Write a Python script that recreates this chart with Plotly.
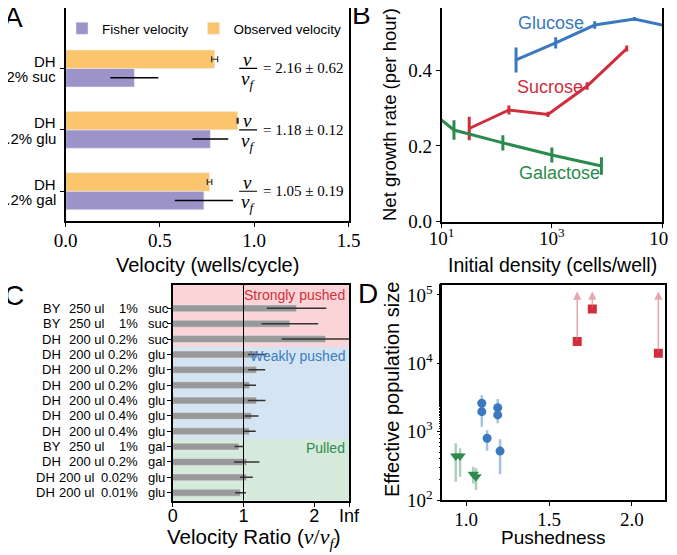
import numpy as np
import plotly.graph_objects as go

# the page body keeps an 8 px margin, so the figure is drawn 8 px in and down
OFF = 8
W, H = 677, 555
SANS = "Liberation Sans"
SERIF = "Liberation Serif"

# ---------- panel A : velocities ----------
a_strain = ["DH", "DH", "DH"]
a_cond = ["0.2% gal", "0.2% glu", "0.2% suc"]
fisher_v = [0.733, 0.767, 0.364]
fisher_err = [0.154, 0.095, 0.127]
observed_v = [0.763, 0.912, 0.790]
observed_err = [0.012, 0.003, 0.016]
ratio = [1.05, 1.18, 2.16]
ratio_err = [0.19, 0.12, 0.62]

# ---------- panel B : growth rate vs density ----------
glu_density = [224, 1175, 6000, 31600, 316000]
glu_rate = [0.427, 0.472, 0.519, 0.535, 0.503]
glu_err = [0.033, 0.015, 0.010, 0.005, 0.005]
suc_density = [31.6, 166, 850, 4370, 22900]
suc_rate = [0.246, 0.295, 0.283, 0.358, 0.457]
suc_err = [0.031, 0.012, 0.007, 0.010, 0.008]
gal_density = [7, 16.7, 129, 1000, 7940]
gal_rate = [0.286, 0.242, 0.208, 0.176, 0.147]
gal_err = [0.0, 0.026, 0.020, 0.020, 0.023]

# ---------- panel C : velocity ratios ----------
c_strain = ["BY", "BY", "DH", "DH", "DH", "DH", "DH", "DH", "DH", "BY", "DH", "DH", "DH"]
c_volume = ["250 ul", "250 ul", "200 ul", "200 ul", "200 ul", "200 ul", "200 ul",
            "200 ul", "200 ul", "250 ul", "200 ul", "200 ul", "200 ul"]
c_conc = ["1%", "1%", "0.2%", "0.2%", "0.2%", "0.2%", "0.4%", "0.4%", "0.4%",
          "1%", "0.2%", "0.02%", "0.01%"]
c_sugar = ["suc", "suc", "suc", "glu", "glu", "glu", "glu", "glu", "glu",
           "gal", "gal", "glu", "glu"]
c_ratio = [1.75, 1.655, 2.16, 1.195, 1.186, 1.087, 1.186, 1.115, 1.083,
           0.936, 1.045, 1.042, 0.958]
c_err = [0.42, 0.40, 0.62, 0.13, 0.12, 0.09, 0.125, 0.097, 0.09,
         0.06, 0.18, 0.09, 0.077]
c_regions = [("Strongly pushed", 0, 3, "#d03040", "rgba(232,60,70,0.22)"),
             ("Weakly pushed", 3, 9, "#3a7cc0", "rgba(60,130,200,0.22)"),
             ("Pulled", 9, 13, "#2e8b50", "rgba(50,150,80,0.2)")]

# ---------- panel D : effective population size ----------
red_push = [1.670, 1.761, 2.159]
red_ne = [20800, 62500, 14060]
red_upper = [1.12e5, 1.12e5, 1.12e5]
blue_push = [1.095, 1.095, 1.191, 1.191, 1.127, 1.205]
blue_ne = [2600, 1960, 2245, 1760, 800, 520]
blue_lo = [2000, 1175, 1700, 1330, 525, 238]
blue_hi = [3440, 2500, 3010, 2200, 1050, 775]
green_push = [0.938, 0.964, 1.044, 1.060]
green_ne = [440, 440, 238, 219]
green_lo = [185, 219, 175, 140]
green_hi = [676, 571, 307, 291]

PURPLE = "#9c93c9"
ORANGE = "#fcc46c"
BLUE = "#3a78c0"
RED = "#cf2e3c"
GREEN = "#2c8a4c"


def px(x):
    return (x - OFF) / W


def py(y):
    return 1 - (y - OFF) / H


def x_dom(a, b):
    return [max(0, px(a)), min(1, px(b))]


def y_dom(top, bottom):
    return [max(0, py(bottom)), min(1, py(top))]


a_cats = [f"{s} {c}" for s, c in zip(a_strain, a_cond)]

fig = go.Figure()

# A
fig.add_trace(go.Bar(y=a_cats, x=fisher_v, orientation="h", name="Fisher velocity",
                     marker_color=PURPLE, xaxis="x", yaxis="y",
                     error_x=dict(type="data", array=fisher_err, color="black",
                                  thickness=1.5, width=0)))
fig.add_trace(go.Bar(y=a_cats, x=observed_v, orientation="h", name="Observed velocity",
                     marker_color=ORANGE, xaxis="x", yaxis="y",
                     error_x=dict(type="data", array=observed_err, color="#333",
                                  thickness=1.2, width=3)))

# B
for dens, rate, err, col in [(glu_density, glu_rate, glu_err, BLUE),
                             (suc_density, suc_rate, suc_err, RED),
                             (gal_density, gal_rate, gal_err, GREEN)]:
    fig.add_trace(go.Scatter(x=dens, y=rate, mode="lines", line=dict(color=col, width=3),
                             error_y=dict(type="data", array=err, color=col,
                                          thickness=3, width=0),
                             xaxis="x2", yaxis="y2", showlegend=False))

# C
n = len(c_ratio)
c_y = [n - 1 - i for i in range(n)]
fig.add_trace(go.Bar(y=c_y, x=c_ratio, orientation="h", width=0.45,
                     marker_color="#999999", xaxis="x3", yaxis="y3", showlegend=False,
                     error_x=dict(type="data", array=c_err, color="#333333",
                                  thickness=1.5, width=0)))

# D
fig.add_trace(go.Scatter(x=blue_push, y=blue_ne, mode="markers",
                         marker=dict(color=BLUE, size=9),
                         error_y=dict(type="data",
                                      array=[h - v for h, v in zip(blue_hi, blue_ne)],
                                      arrayminus=[v - l for l, v in zip(blue_lo, blue_ne)],
                                      color="rgba(58,120,192,0.45)", thickness=2.5, width=0),
                         xaxis="x4", yaxis="y4", showlegend=False))
fig.add_trace(go.Scatter(x=green_push, y=green_ne, mode="markers",
                         marker=dict(color=GREEN, size=10, symbol="triangle-down"),
                         error_y=dict(type="data",
                                      array=[h - v for h, v in zip(green_hi, green_ne)],
                                      arrayminus=[v - l for l, v in zip(green_lo, green_ne)],
                                      color="rgba(44,138,76,0.4)", thickness=2.5, width=0),
                         xaxis="x4", yaxis="y4", showlegend=False))
fig.add_trace(go.Scatter(x=red_push, y=red_ne, mode="markers",
                         marker=dict(color=RED, size=9, symbol="square"),
                         xaxis="x4", yaxis="y4", showlegend=False))

ann = []
shapes = []

# A: two-line category labels and fraction annotations
for i, (s, c, r, e) in enumerate(zip(a_strain, a_cond, ratio, ratio_err)):
    for txt, shift in [(s, 7), (c, -8.5)]:
        ann.append(dict(x=px(58), y=i, xref="paper", yref="y", text=txt, yshift=shift,
                        showarrow=False, xanchor="right", yanchor="middle",
                        font=dict(family=SANS, size=15)))
    ann.append(dict(x=0.965, y=i, xref="x", yref="y", text="<i>v</i>", yshift=9,
                    showarrow=False, xanchor="center", yanchor="middle",
                    font=dict(family=SERIF, size=19)))
    ann.append(dict(x=0.965, y=i, xref="x", yref="y", text="<i>v<sub>f</sub></i>",
                    yshift=-12, showarrow=False, xanchor="center", yanchor="middle",
                    font=dict(family=SERIF, size=19)))
    shapes.append(dict(type="line", xref="x", yref="y", x0=0.92, x1=1.015, y0=i, y1=i,
                       line=dict(color="black", width=1.2)))
    ann.append(dict(x=1.035, y=i, xref="x", yref="y", text=f"= {r:.2f} ± {e:.2f}",
                    showarrow=False, xanchor="left", yanchor="middle",
                    font=dict(family=SERIF, size=15)))

# B curve labels
for txt, xx, yy, col in [("Glucose", 2.98, 0.525, BLUE), ("Sucrose", 2.96, 0.355, RED),
                         ("Galactose", 3.13, 0.128, GREEN)]:
    ann.append(dict(x=xx, y=yy, xref="x2", yref="y2", text=txt, showarrow=False,
                    xanchor="center", yanchor="middle",
                    font=dict(family=SANS, size=18, color=col)))

# C region backgrounds and labels
for name, i0, i1, tcol, fcol in c_regions:
    top = n - 1 - i0 + 0.5 if i0 > 0 else n + 0.6
    bot = n - 1 - i1 + 0.5 if i1 < n else -0.6
    shapes.append(dict(type="rect", xref="x3 domain", yref="y3", x0=0, x1=1,
                       y0=bot, y1=top, fillcolor=fcol, line_width=0, layer="below"))
    ann.append(dict(x=0.99, y=n - 1 - i0 + (0.85 if i0 == 0 else -0.08),
                    xref="x3 domain", yref="y3", text=name,
                    showarrow=False, xanchor="right", yanchor="middle",
                    font=dict(family=SANS, size=14, color=tcol)))
shapes.append(dict(type="line", xref="x3", yref="y3 domain", x0=1, x1=1, y0=0, y1=1,
                   line=dict(color="black", width=1)))

# C row labels: one right-aligned line per row, built from four columns
for i in range(n):
    yy = c_y[i]
    tight = 10 if len(c_conc[i]) > 4 else 0   # only one space before long concentrations
    for txt, xp, anchor in [(c_strain[i], 63.3 - tight * 0.6, "right"),
                            (c_volume[i], 106.7 - tight, "right"),
                            (c_conc[i], 139.5, "right"), (c_sugar[i], 146, "left")]:
        ann.append(dict(x=px(xp), y=yy, xref="paper", yref="y3", text=txt,
                        showarrow=False, xanchor=anchor, yanchor="middle",
                        font=dict(family=SANS, size=13, color="black")))

# D arrows (lower bounds)
for xx, lo, hi in zip(red_push, red_ne, red_upper):
    ann.append(dict(x=xx, y=np.log10(hi), ax=xx, ay=np.log10(lo), xref="x4", yref="y4",
                    axref="x4", ayref="y4", text="", showarrow=True, arrowhead=2,
                    arrowsize=1.1, arrowwidth=1.5, arrowcolor="rgba(215,110,120,0.6)"))

# axis titles and panel letters
titles = [
    ("Velocity (wells/cycle)", 207, 265, 0, 20),
    ("Initial density (cells/well)", 552, 265, 0, 19.5),
    ("Net growth rate (per hour)", 389, 114, -90, 18.5),
    ("Velocity Ratio (<span style='font-family:Liberation Serif;font-size:22px'>"
     "<i>v</i>/<i>v<sub>f</sub></i></span>)", 254, 538, 0, 20.5),
    ("Effective population size", 392, 390, -90, 20),
    ("Pushedness", 553, 537, 0, 19),
    ("A", 13, 17, 0, 28), ("B", 361, 15, 0, 28), ("C", 14, 295, 0, 28), ("D", 368, 293, 0, 28),
]
for txt, xx, yy, ang, sz in titles:
    ann.append(dict(x=px(xx), y=py(yy), xref="paper", yref="paper", text=txt,
                    textangle=ang, showarrow=False, xanchor="center", yanchor="middle",
                    font=dict(family=SANS, size=sz)))

frame = dict(showline=True, linecolor="black", linewidth=1.6, mirror=True,
             ticks="outside", ticklen=4, tickcolor="black", showgrid=False,
             zeroline=False, automargin=False)
serif_tick = dict(family=SERIF, size=19, color="black")

fig.update_layout(
    width=W, height=H, margin=dict(l=0, r=0, t=0, b=0),
    plot_bgcolor="white", paper_bgcolor="white",
    barmode="group", bargap=0.4,
    font=dict(family=SANS, color="black"),
    legend=dict(orientation="h", x=px(62), y=py(13), xanchor="left", yanchor="top",
                bgcolor="rgba(0,0,0,0)", font=dict(family=SANS, size=13.5),
                itemwidth=30, tracegroupgap=0),
    xaxis=dict(domain=x_dom(65.7, 348.5), anchor="y", range=[0, 1.5],
               tickvals=[0, 0.5, 1.0, 1.5], ticktext=["0.0", "0.5", "1.0", "1.5"],
               tickfont=serif_tick, ticklabelstandoff=-3, **frame),
    yaxis=dict(domain=y_dom(8, 221), anchor="x", range=[-0.485, 2.985],
               showticklabels=False, **frame),
    xaxis2=dict(domain=x_dom(441.7, 662), anchor="y2", type="log", range=[1, 5],
                tickvals=[10, 1000, 100000],
                ticktext=["10<sup>1</sup>", "10<sup>3</sup>", "10<sup>5</sup>"],
                tickfont=serif_tick, ticklabelstandoff=-5, **frame),
    yaxis2=dict(domain=y_dom(8, 221.7), anchor="x2", range=[0, 0.564],
                tickvals=[0, 0.2, 0.4], ticktext=["0.0", "0.2", "0.4"],
                tickfont=serif_tick, **frame),
    xaxis3=dict(domain=x_dom(172.7, 349), anchor="y3", range=[0, 2.49],
                tickvals=[0, 1, 2, 2.49], ticktext=["0", "1", "2", "Inf"],
                tickfont=dict(family=SANS, size=18), ticklabelstandoff=-6, **frame),
    yaxis3=dict(domain=y_dom(285, 500.7), anchor="x3", range=[-0.52, n + 0.52],
                tickvals=c_y, showticklabels=False, **frame),
    xaxis4=dict(domain=x_dom(442.3, 665), anchor="y4", range=[0.857, 2.199],
                tickvals=[1.0, 1.5, 2.0], ticktext=["1.0", "1.5", "2.0"],
                tickfont=serif_tick, ticklabelstandoff=-3, **frame),
    yaxis4=dict(domain=y_dom(285, 500), anchor="x4", type="log", range=[2, 5.146],
                tickvals=[100, 1000, 10000, 100000],
                ticktext=["10<sup>2</sup>", "10<sup>3</sup>", "10<sup>4</sup>", "10<sup>5</sup>"],
                minor=dict(ticks="outside", ticklen=2, tickcolor="black"),
                tickfont=serif_tick, **frame),
    annotations=ann,
    shapes=shapes,
)

fig.write_html("out.html")
